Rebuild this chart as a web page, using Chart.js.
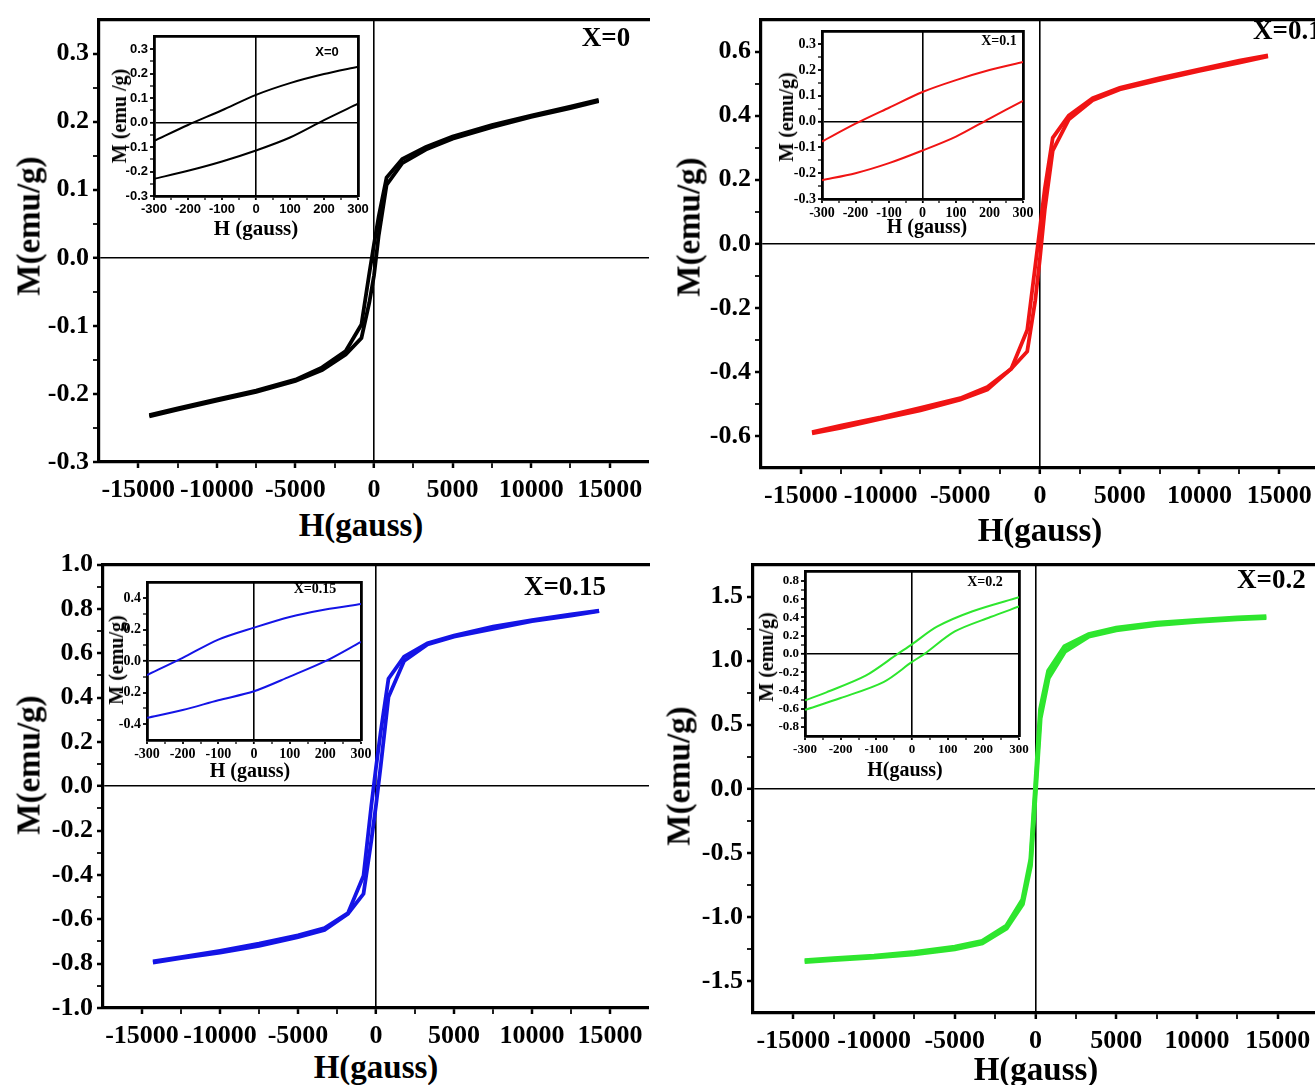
<!DOCTYPE html>
<html>
<head>
<meta charset="utf-8">
<script src="https://cdn.jsdelivr.net/npm/chart.js@4.4.1/dist/chart.umd.min.js"></script>
<style>
  html, body { margin: 0; padding: 0; background: #fff; overflow: hidden; }
  #fig { position: relative; width: 1315px; height: 1085px; overflow: hidden; background: #fff; }
  .box { position: absolute; }
  .lbl { position: absolute; font-family: "Liberation Serif", "Times New Roman", serif; font-weight: bold;
         color: #000; white-space: nowrap; line-height: 1; }
</style>
</head>
<body>
<div id="fig"></div>
<script>
// ---- Hysteresis loops M(H), field in gauss, magnetisation in emu/g ----
const fieldMain = [-14300, -12500, -10000, -7500, -5000, -3300, -1800, -800, -300, 0, 300, 800, 1800, 3300, 5000, 7500, 10000, 12500, 14300];

// X = 0
const mDownX0 = [-0.231, -0.221, -0.208, -0.195, -0.179, -0.161, -0.137, -0.098, -0.023, 0.020, 0.061, 0.118, 0.145, 0.163, 0.178, 0.195, 0.209, 0.222, 0.232];
const mUpX0   = [-0.233, -0.223, -0.210, -0.197, -0.181, -0.165, -0.142, -0.118, -0.066, -0.026, 0.033, 0.107, 0.139, 0.159, 0.175, 0.192, 0.207, 0.220, 0.230];
// X = 0.1
const mDownX01 = [-0.588, -0.568, -0.542, -0.512, -0.482, -0.447, -0.390, -0.269, -0.070, 0.050, 0.172, 0.331, 0.400, 0.455, 0.487, 0.517, 0.545, 0.572, 0.588];
const mUpX01   = [-0.592, -0.575, -0.547, -0.520, -0.487, -0.455, -0.390, -0.336, -0.178, -0.044, 0.106, 0.291, 0.388, 0.448, 0.482, 0.512, 0.540, 0.566, 0.585];
// X = 0.15
const mDownX015 = [-0.790, -0.770, -0.742, -0.710, -0.672, -0.640, -0.572, -0.403, -0.088, 0.085, 0.245, 0.485, 0.585, 0.645, 0.680, 0.720, 0.750, 0.775, 0.792];
const mUpX015   = [-0.795, -0.775, -0.750, -0.720, -0.680, -0.648, -0.575, -0.485, -0.245, -0.085, 0.090, 0.403, 0.565, 0.640, 0.675, 0.710, 0.745, 0.770, 0.790];
// X = 0.2
const mDownX02 = [-1.340, -1.325, -1.305, -1.275, -1.235, -1.190, -1.070, -0.865, -0.550, 0.030, 0.620, 0.920, 1.110, 1.205, 1.255, 1.295, 1.315, 1.335, 1.345];
const mUpX02   = [-1.350, -1.335, -1.315, -1.290, -1.250, -1.205, -1.090, -0.900, -0.600, -0.030, 0.550, 0.865, 1.070, 1.190, 1.240, 1.280, 1.305, 1.325, 1.335];

// Low-field detail (insets)
const fieldInset = [-300, -200, -100, 0, 100, 200, 300];
const insetDownX0   = [-0.075, -0.010, 0.050, 0.113, 0.161, 0.198, 0.228];
const insetUpX0     = [-0.230, -0.197, -0.159, -0.114, -0.061, 0.010, 0.077];
const insetDownX01  = [-0.077, -0.008, 0.054, 0.115, 0.161, 0.200, 0.231];
const insetUpX01    = [-0.227, -0.200, -0.161, -0.112, -0.058, 0.012, 0.081];
const insetDownX015 = [-0.088, 0.021, 0.137, 0.213, 0.281, 0.328, 0.363];
const insetUpX015   = [-0.359, -0.310, -0.248, -0.191, -0.098, 0.000, 0.123];
const insetFieldDownX02 = [-300, -240, -130, -40, 0, 70, 170, 300];
const insetDownX02      = [-0.509, -0.421, -0.239, 0.000, 0.105, 0.298, 0.467, 0.621];
const insetFieldUpX02   = [-300, -200, -80, 0, 35, 120, 220, 300];
const insetUpX02        = [-0.614, -0.484, -0.309, -0.088, 0.000, 0.246, 0.404, 0.519];

// Tick labels
const hTicks = [-15000, -10000, -5000, 0, 5000, 10000, 15000];
const mTicksX0 = [-0.3, -0.2, -0.1, 0, 0.1, 0.2, 0.3];
const mTicksX01 = [-0.6, -0.4, -0.2, 0, 0.2, 0.4, 0.6];
const mTicksX015 = [-1.0, -0.8, -0.6, -0.4, -0.2, 0, 0.2, 0.4, 0.6, 0.8, 1.0];
const mTicksX02 = [-1.5, -1.0, -0.5, 0, 0.5, 1.0, 1.5];
const hTicksInset = [-300, -200, -100, 0, 100, 200, 300];
const mTicksInsetX0 = [-0.3, -0.2, -0.1, 0, 0.1, 0.2, 0.3];
const mTicksInsetX015 = [-0.4, -0.2, 0, 0.2, 0.4];
const mTicksInsetX02 = [-0.8, -0.6, -0.4, -0.2, 0, 0.2, 0.4, 0.6, 0.8];

const SERIF = '"Liberation Serif", "Times New Roman", serif';
const SANS = '"Liberation Sans", Arial, sans-serif';
const fig = document.getElementById('fig');

function pts(xs, ys) { return xs.map((x, i) => ({ x: x, y: ys[i] })); }

// majors carry a label, the midpoints between them are unlabelled minor ticks
function tickSet(majors) {
  const out = [];
  majors.forEach((v, i) => {
    out.push({ value: v, lab: true });
    if (i < majors.length - 1) out.push({ value: +((v + majors[i + 1]) / 2).toFixed(6), lab: false });
  });
  return out;
}

const isZero = c => c.tick && Math.abs(c.tick.value) < 1e-9;

function axis(pos, range, majors, fmt, s, fitSize) {
  const horiz = pos === 'bottom';
  return {
    type: 'linear', position: pos, min: range[0], max: range[1], display: true,
    afterBuildTicks: sc => { sc.ticks = tickSet(majors); },
    afterFit: sc => { if (horiz) sc.height = fitSize; else sc.width = fitSize; },
    ticks: {
      autoSkip: false, maxRotation: 0, minRotation: 0, color: '#000',
      padding: horiz ? s.xPad : s.yPad,
      font: { family: s.tickFamily, size: s.tickSize, weight: 'bold' },
      callback: (v, i, t) => (t[i] && t[i].lab) ? fmt(v) : ''
    },
    grid: {
      display: true, drawOnChartArea: true, drawTicks: true, tickLength: s.tickLen,
      color: c => isZero(c) ? '#000' : 'rgba(0,0,0,0)',
      lineWidth: c => isZero(c) ? s.zeroW : 0,
      tickColor: '#000',
      tickWidth: c => (c.tick && c.tick.lab) ? s.tickW : s.tickW * 0.7
    },
    border: { display: true, color: '#000', width: s.frameW }
  };
}

function edge(pos, range, s) {
  const horiz = pos === 'top';
  return {
    type: 'linear', position: pos, min: range[0], max: range[1], display: true,
    afterFit: sc => { if (horiz) sc.height = 0; else sc.width = 0; },
    ticks: { display: false },
    grid: { display: false, drawTicks: false },
    border: { display: true, color: '#000', width: s.frameW }
  };
}

function makeChart(s) {
  const a = s.area, p = s.pad;
  const W = (a.r - a.l) + p.l + p.r, H = (a.b - a.t) + p.t + p.b;
  const div = document.createElement('div');
  div.className = 'box';
  div.style.left = (a.l - p.l) + 'px';
  div.style.top = (a.t - p.t) + 'px';
  div.style.width = W + 'px';
  div.style.height = H + 'px';
  div.style.zIndex = s.z;
  const cv = document.createElement('canvas');
  cv.width = W; cv.height = H;
  cv.style.width = W + 'px'; cv.style.height = H + 'px';
  div.appendChild(cv);
  fig.appendChild(div);

  const scales = {
    x: axis('bottom', s.xRange, s.xMajors, v => String(Math.round(v)), s, p.b),
    y: axis('left', s.yRange, s.yMajors, v => v.toFixed(1), s, p.l),
    xTop: edge('top', s.xRange, s)
  };
  if (s.boxed) scales.yRight = edge('right', s.yRange, s);

  new Chart(cv, {
    type: 'scatter',
    data: {
      datasets: s.series.map(d => ({
        data: d.data, showLine: true, borderColor: s.color, borderWidth: s.lineW,
        pointRadius: 0, pointHoverRadius: 0, fill: false, tension: s.tension,
        xAxisID: 'x', yAxisID: 'y'
      }))
    },
    options: {
      responsive: false, animation: false, events: [], devicePixelRatio: 1,
      layout: { padding: { left: 0, top: p.t, right: p.r, bottom: 0 } },
      plugins: { legend: { display: false }, tooltip: { enabled: false }, title: { display: false } },
      scales: scales
    }
  });
}

function addText(text, x, y, size, opt) {
  opt = opt || {};
  const d = document.createElement('div');
  d.className = 'lbl';
  d.textContent = text;
  d.style.fontSize = size + 'px';
  if (opt.family) d.style.fontFamily = opt.family;
  d.style.left = x + 'px';
  d.style.top = y + 'px';
  d.style.zIndex = 5;
  let tr = opt.left ? 'translate(0,-50%)' : 'translate(-50%,-50%)';
  if (opt.rot) tr += ' rotate(-90deg)';
  d.style.transform = tr;
  fig.appendChild(d);
}

const mainStyle = { tickFamily: SERIF, tickSize: 26, xPad: 7, yPad: 4, tickLen: 6, tickW: 2.5,
                    zeroW: 1.6, frameW: 3.2, lineW: 3.8, tension: 0, boxed: false, z: 1 };
const insetStyle = { tickFamily: SERIF, tickSize: 14, xPad: 2, yPad: 2, tickLen: 4, tickW: 1.8,
                     zeroW: 1.6, frameW: 2.8, lineW: 2, tension: 0.3, boxed: true, z: 3 };
const HR = [-17500, 17500];
const HIR = [-300, 300];

// main panels
makeChart(Object.assign({}, mainStyle, {
  area: { l: 99, r: 649, t: 14, b: 462 }, pad: { l: 99, r: 10, t: 14, b: 40 },
  xRange: HR, yRange: [-0.3, 0.35], xMajors: hTicks, yMajors: mTicksX0, color: '#000000',
  series: [{ data: pts(fieldMain, mDownX0) }, { data: pts(fieldMain, mUpX0) }]
}));
makeChart(Object.assign({}, mainStyle, {
  area: { l: 761, r: 1319, t: 14, b: 468 }, pad: { l: 81, r: 10, t: 14, b: 40 },
  xRange: HR, yRange: [-0.7, 0.7], xMajors: hTicks, yMajors: mTicksX01, color: '#f01414',
  series: [{ data: pts(fieldMain, mDownX01) }, { data: pts(fieldMain, mUpX01) }]
}));
makeChart(Object.assign({}, mainStyle, {
  area: { l: 103, r: 649, t: 561, b: 1008 }, pad: { l: 103, r: 10, t: 16, b: 40 },
  xRange: HR, yRange: [-1.0, 1.0], xMajors: hTicks, yMajors: mTicksX015, color: '#1414e6',
  series: [{ data: pts(fieldMain, mDownX015) }, { data: pts(fieldMain, mUpX015) }]
}));
makeChart(Object.assign({}, mainStyle, {
  lineW: 4.5,
  area: { l: 753, r: 1318, t: 554, b: 1013 }, pad: { l: 83, r: 10, t: 9, b: 40 },
  xRange: HR, yRange: [-1.75, 1.75], xMajors: hTicks, yMajors: mTicksX02, color: '#2ee62e',
  series: [{ data: pts(fieldMain, mDownX02) }, { data: pts(fieldMain, mUpX02) }]
}));

// insets
makeChart(Object.assign({}, insetStyle, {
  tickFamily: SANS, tickSize: 13,
  area: { l: 154, r: 358, t: 35, b: 196 }, pad: { l: 42, r: 18, t: 8, b: 24 },
  xRange: HIR, yRange: [-0.3, 0.35], xMajors: hTicksInset, yMajors: mTicksInsetX0, color: '#000000',
  series: [{ data: pts(fieldInset, insetDownX0) }, { data: pts(fieldInset, insetUpX0) }]
}));
makeChart(Object.assign({}, insetStyle, {
  area: { l: 822, r: 1023, t: 29, b: 199 }, pad: { l: 42, r: 18, t: 8, b: 24 },
  xRange: HIR, yRange: [-0.3, 0.35], xMajors: hTicksInset, yMajors: mTicksInsetX0, color: '#f01414',
  series: [{ data: pts(fieldInset, insetDownX01) }, { data: pts(fieldInset, insetUpX01) }]
}));
makeChart(Object.assign({}, insetStyle, {
  area: { l: 147, r: 361, t: 580, b: 740 }, pad: { l: 42, r: 18, t: 8, b: 24 },
  xRange: HIR, yRange: [-0.5, 0.5], xMajors: hTicksInset, yMajors: mTicksInsetX015, color: '#1414e6',
  series: [{ data: pts(fieldInset, insetDownX015) }, { data: pts(fieldInset, insetUpX015) }]
}));
makeChart(Object.assign({}, insetStyle, {
  tickSize: 13,
  area: { l: 805, r: 1019, t: 570, b: 736 }, pad: { l: 42, r: 18, t: 8, b: 24 },
  xRange: HIR, yRange: [-0.9, 0.9], xMajors: hTicksInset, yMajors: mTicksInsetX02, color: '#2ee62e',
  series: [{ data: pts(insetFieldDownX02, insetDownX02) }, { data: pts(insetFieldUpX02, insetUpX02) }]
}));

// axis titles and sample labels
addText('M(emu/g)', 29, 226, 33, { rot: true });
addText('H(gauss)', 361, 525, 33);
addText('X=0', 606, 37, 27);
addText('M(emu/g)', 689, 227, 33, { rot: true });
addText('H(gauss)', 1040, 530, 33);
addText('X=0.1', 1253, 30, 27, { left: true });
addText('M(emu/g)', 29, 765, 33, { rot: true });
addText('H(gauss)', 376, 1067, 33);
addText('X=0.15', 565, 586, 27);
addText('M(emu/g)', 679, 776, 33, { rot: true });
addText('H(gauss)', 1036, 1069, 33);
addText('X=0.2', 1237, 579, 27, { left: true });

addText('M (emu /g)', 119, 116, 20, { rot: true });
addText('H (gauss)', 256, 228, 21);
addText('X=0', 327, 51, 13, { family: SANS });
addText('M (emu/g)', 786, 117, 20, { rot: true });
addText('H (gauss)', 927, 226, 20);
addText('X=0.1', 999, 41, 14);
addText('M (emu/g)', 116, 660, 20, { rot: true });
addText('H (gauss)', 250, 770, 20);
addText('X=0.15', 315, 589, 14);
addText('M (emu/g)', 766, 657, 20, { rot: true });
addText('H(gauss)', 905, 769, 20);
addText('X=0.2', 985, 582, 14);
</script>
</body>
</html>
